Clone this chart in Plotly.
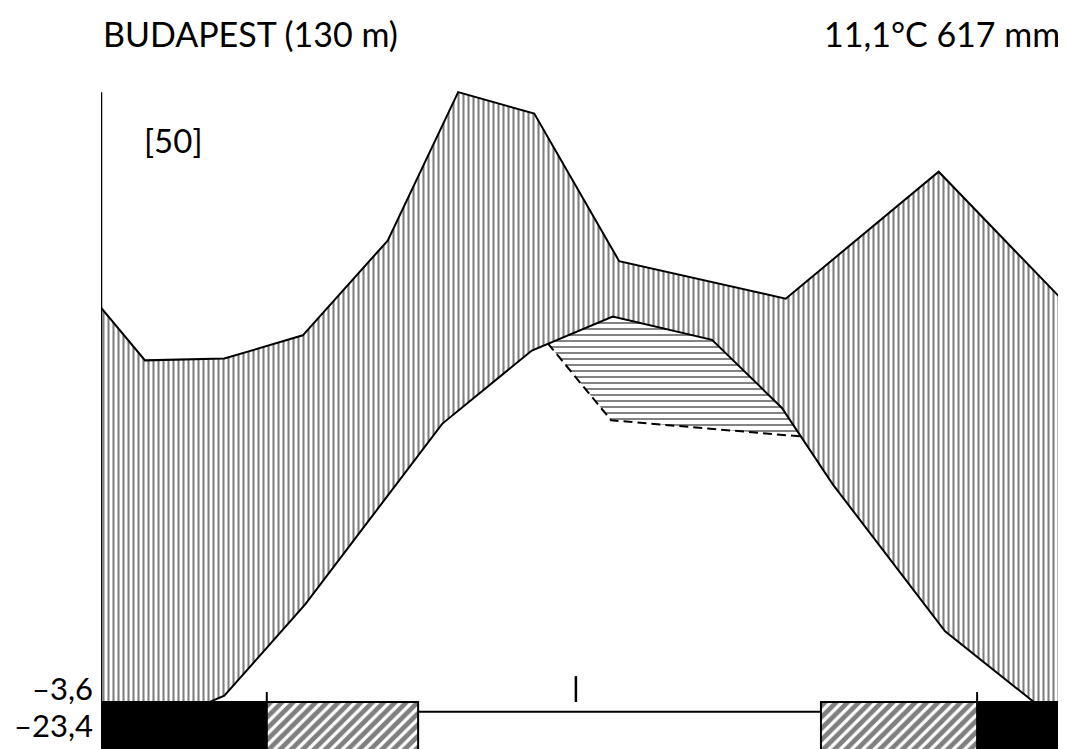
import numpy as np
import plotly.graph_objects as go

# ---------------- data ----------------
STATION = "BUDAPEST (130 m)"
SUMMARY = "11,1°C 617 mm"
YEARS_LABEL = "[50]"
TMIN_LABELS = ["–3,6", "–23,4"]

# precipitation curve (mm), x in months (0 = start of Jan, 12 = end of Dec)
PRECIP_X = [0, 0.55, 1.54, 2.52, 3.58, 4.46, 5.41, 6.47, 8.55, 10.46, 12]
PRECIP_MM = [45.2, 39.3, 39.5, 42.1, 52.7, 69.3, 66.9, 50.4, 46.2, 60.4, 46.1]

# temperature curve (°C)
TEMP_X = [0, 0.55, 1.54, 2.55, 4.26, 5.38, 6.39, 7.63, 8.50, 9.14, 10.54, 11.66, 12]
TEMP_C = [-1.2, -1.0, 0.9, 6.0, 16.1, 20.2, 22.1, 20.8, 17.0, 12.7, 4.5, 0.5, -0.6]

# reduced precipitation curve (dashed, 10 °C = 30 mm), only where below temperature
DRY_X = [5.58, 6.37, 8.73]
DRY_MM = [41.2, 32.6, 30.8]

# frost bars: (start month, end month)
FROST_BLACK = [(0, 2.07), (10.94, 12)]
FROST_HATCH = [(2.07, 3.96), (8.99, 10.94)]
TICK_X_SHORT = [2.07, 10.94]
TICK_X_LONG = [5.93]

# ---------------- scales / layout constants ----------------
MM_PER_C = 2.0          # 10 °C = 20 mm
BAR_TOP = 1.085         # top of the frost bars (mm units)
BAR_BOTTOM = -10
FRAME_TOP = 69.3
W, H = 1058, 741        # page body has an 8 px margin
ML, MR, MT, MB = 93, 4, 72, 0
Y_RANGE = [-4.17, 70.66]

temp_mm = [t * MM_PER_C for t in TEMP_C]

fig = go.Figure()

# humid area (vertical hatching) between precipitation and temperature
hx = list(PRECIP_X) + list(TEMP_X[::-1])
hy = list(PRECIP_MM) + list(temp_mm[::-1])
fig.add_trace(go.Scatter(
    x=hx, y=hy, mode="lines", fill="toself", line=dict(width=0, color="rgba(0,0,0,0)"),
    fillcolor="white",
    fillpattern=dict(shape="|", size=5, solidity=0.42, fgcolor="black", bgcolor="white"),
    hoverinfo="skip", showlegend=False))

# relative drought area (horizontal dashes) between temperature and dashed curve
t_end = float(np.interp(DRY_X[-1], TEMP_X, temp_mm))
t_start = float(np.interp(DRY_X[0], TEMP_X, temp_mm))
inner = [(x, y) for x, y in zip(TEMP_X, temp_mm) if DRY_X[0] < x < DRY_X[-1]][::-1]
dx = list(DRY_X) + [DRY_X[-1]] + [p[0] for p in inner] + [DRY_X[0]]
dy = list(DRY_MM) + [t_end] + [p[1] for p in inner] + [t_start]
fig.add_trace(go.Scatter(
    x=dx, y=dy, mode="lines", fill="toself", line=dict(width=0, color="rgba(0,0,0,0)"),
    fillcolor="white",
    fillpattern=dict(shape="-", size=6, solidity=0.22, fgcolor="#111111", fgopacity=0.8, bgcolor="white"),
    hoverinfo="skip", showlegend=False))

# baseline (0 °C)
fig.add_trace(go.Scatter(x=[0, 12], y=[0, 0], mode="lines",
                         line=dict(color="black", width=2), hoverinfo="skip", showlegend=False))

# curves
fig.add_trace(go.Scatter(x=PRECIP_X, y=PRECIP_MM, mode="lines",
                         line=dict(color="black", width=2), hoverinfo="skip", showlegend=False))
fig.add_trace(go.Scatter(x=TEMP_X, y=temp_mm, mode="lines",
                         line=dict(color="black", width=2), hoverinfo="skip", showlegend=False))
fig.add_trace(go.Scatter(x=DRY_X, y=DRY_MM, mode="lines",
                         line=dict(color="black", width=2, dash="9px,5px"), hoverinfo="skip", showlegend=False))

# frame verticals
for fx in (0, 12):
    fig.add_trace(go.Scatter(x=[fx, fx], y=[BAR_BOTTOM, FRAME_TOP], mode="lines",
                             line=dict(color="black", width=2.5), hoverinfo="skip", showlegend=False))

# frost bars
for a, b in FROST_BLACK:
    fig.add_trace(go.Scatter(x=[a, b, b, a, a], y=[BAR_BOTTOM, BAR_BOTTOM, BAR_TOP, BAR_TOP, BAR_BOTTOM],
                             mode="lines", fill="toself", fillcolor="black",
                             line=dict(color="black", width=2), hoverinfo="skip", showlegend=False))
for a, b in FROST_HATCH:
    fig.add_trace(go.Scatter(x=[a, b, b, a, a], y=[BAR_BOTTOM, BAR_BOTTOM, BAR_TOP, BAR_TOP, BAR_BOTTOM],
                             mode="lines", fill="toself", fillcolor="white",
                             fillpattern=dict(shape="/", size=8, solidity=0.6, fgcolor="black", bgcolor="white"),
                             line=dict(color="black", width=2), hoverinfo="skip", showlegend=False))

# ticks
for tx in TICK_X_SHORT:
    fig.add_trace(go.Scatter(x=[tx, tx], y=[BAR_TOP, 2.2], mode="lines",
                             line=dict(color="black", width=2), hoverinfo="skip", showlegend=False))
for tx in TICK_X_LONG:
    fig.add_trace(go.Scatter(x=[tx, tx], y=[BAR_TOP, 3.98], mode="lines",
                             line=dict(color="black", width=2.5), hoverinfo="skip", showlegend=False))

FONT = "Lato"
ann = [
    dict(x=0, y=1.0, xref="paper", yref="paper", xanchor="left", yanchor="bottom", yshift=24,
         text=STATION, showarrow=False, font=dict(family=FONT, size=34, color="black")),
    dict(x=1.0, y=1.0, xref="paper", yref="paper", xanchor="right", yanchor="bottom", yshift=24,
         text=SUMMARY, showarrow=False, font=dict(family=FONT, size=34, color="black")),
    dict(x=0.043, y=63.9, xref="paper", yref="y", xanchor="left", yanchor="middle",
         text=YEARS_LABEL, showarrow=False, font=dict(family=FONT, size=33, color="black")),
    dict(x=0, y=2.65, xref="paper", yref="y", xanchor="right", yanchor="middle", xshift=-6,
         text=TMIN_LABELS[0], showarrow=False, font=dict(family=FONT, size=31, color="black")),
    dict(x=0, y=-1.49, xref="paper", yref="y", xanchor="right", yanchor="middle", xshift=-6,
         text=TMIN_LABELS[1], showarrow=False, font=dict(family=FONT, size=31, color="black")),
]

fig.update_layout(
    width=W, height=H,
    margin=dict(l=ML, r=MR, t=MT, b=MB),
    paper_bgcolor="white", plot_bgcolor="white",
    xaxis=dict(range=[0, 12], visible=False, fixedrange=True),
    yaxis=dict(range=Y_RANGE, visible=False, fixedrange=True),
    annotations=ann, showlegend=False,
)

fig.write_html("out.html")
